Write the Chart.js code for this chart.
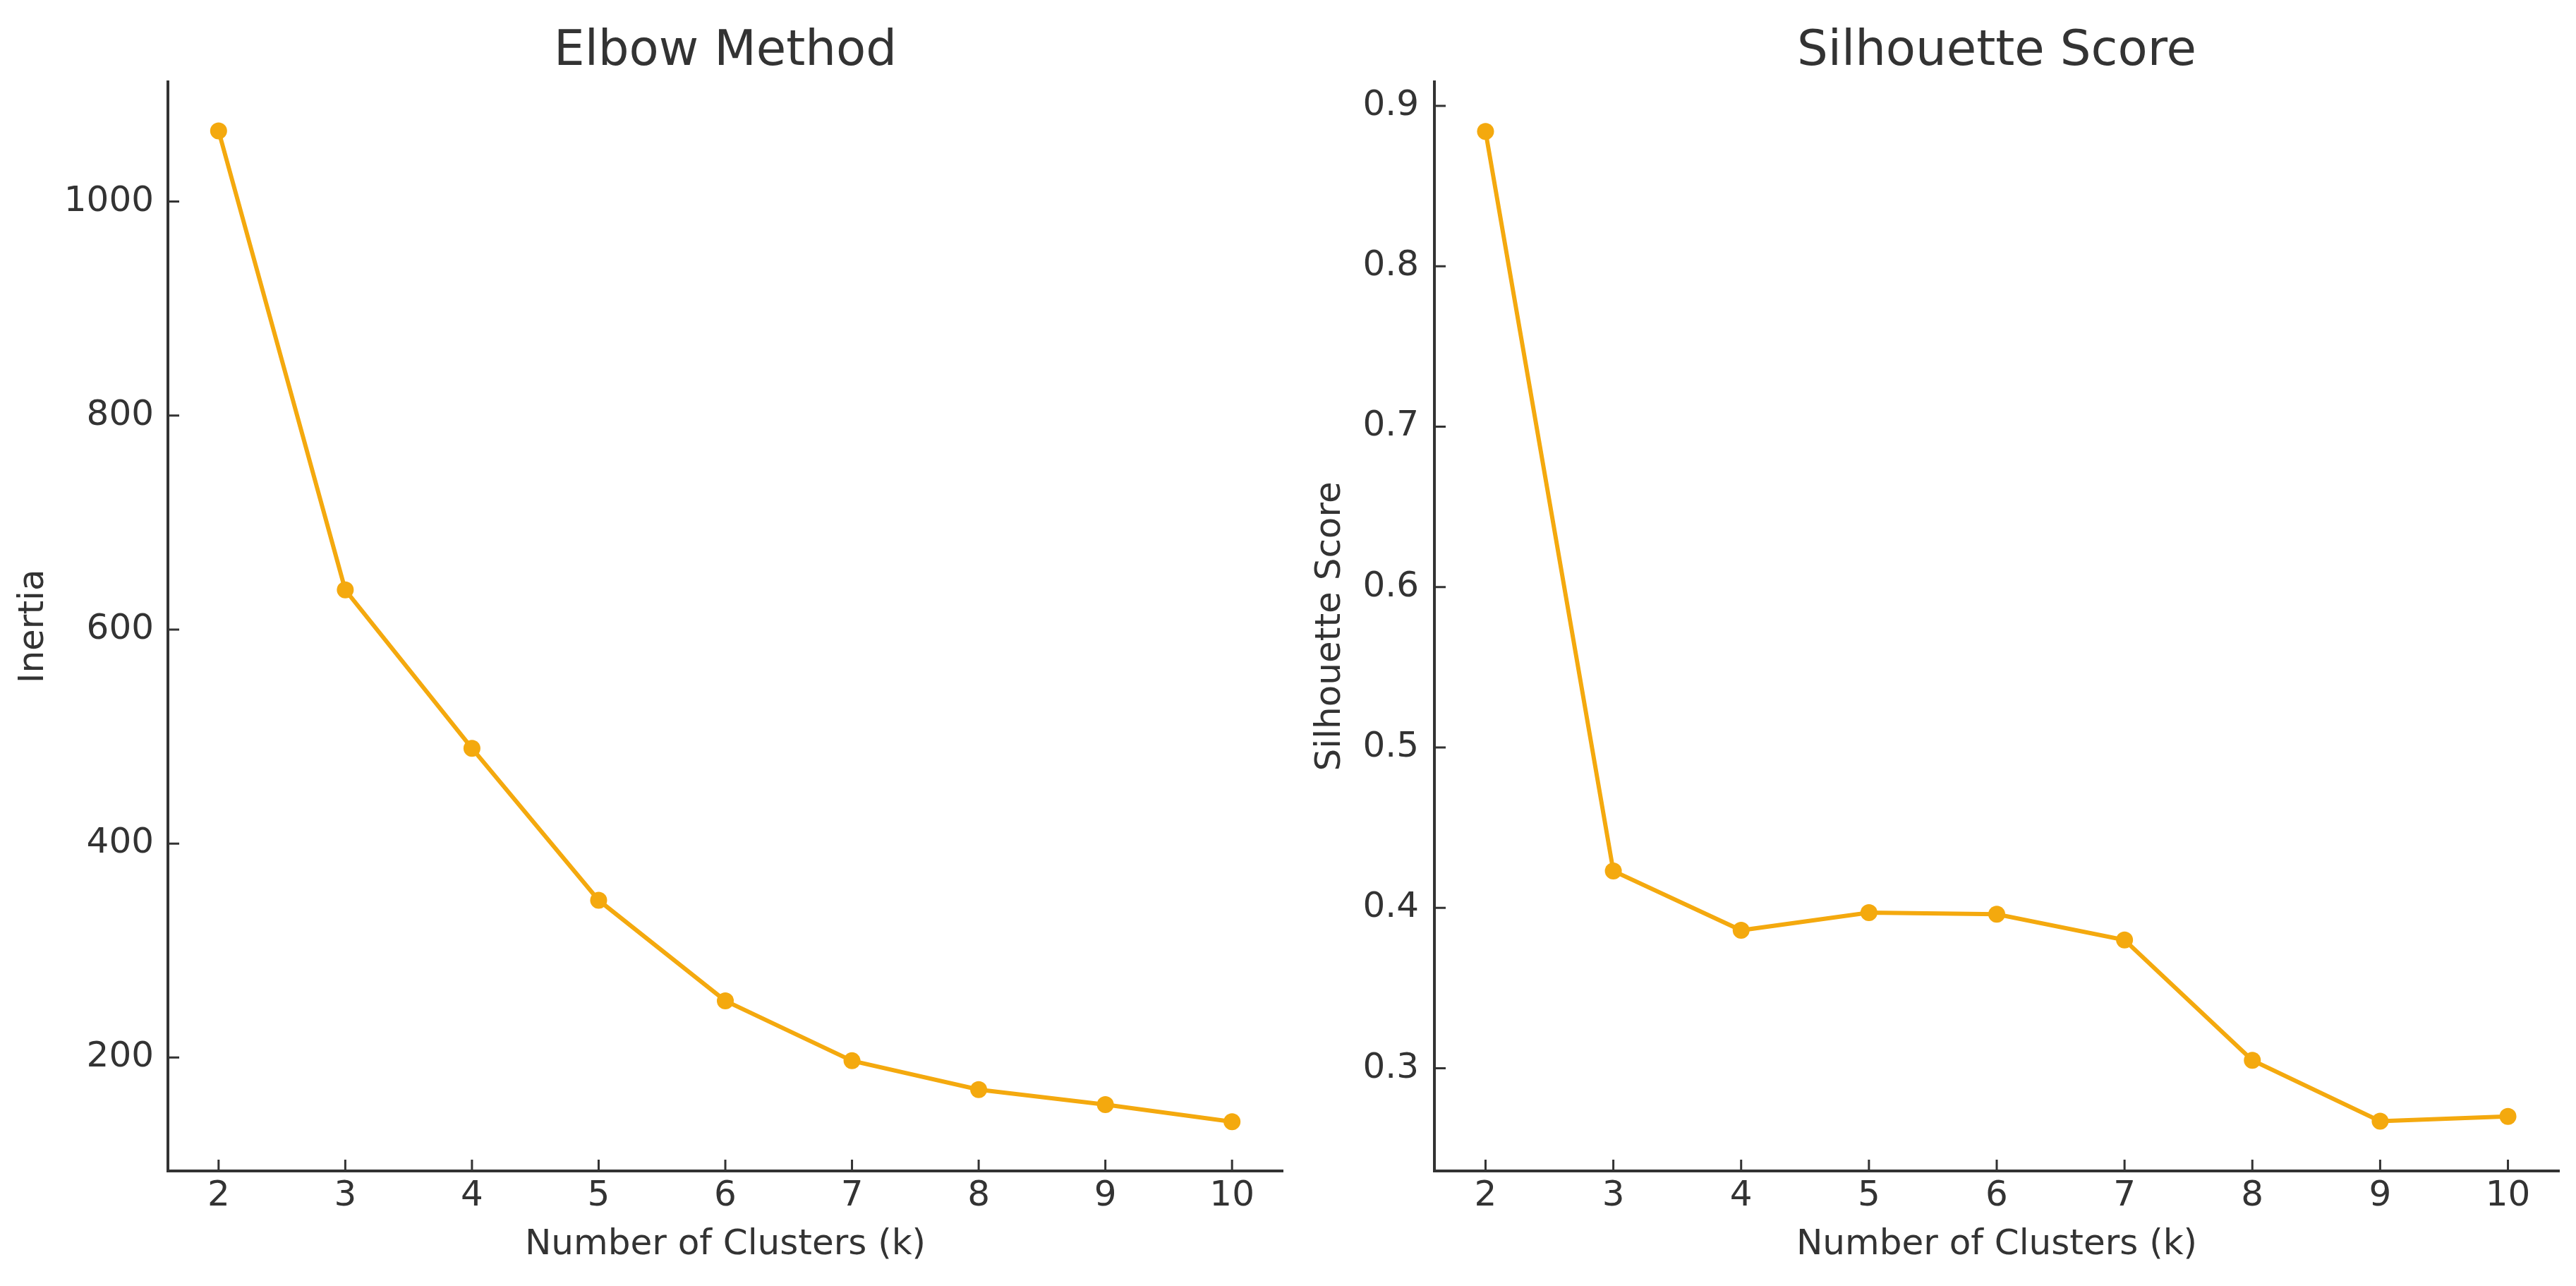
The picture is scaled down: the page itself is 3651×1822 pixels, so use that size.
<!DOCTYPE html>
<html lang="en">
<head>
<meta charset="UTF-8">
<title>Elbow Method / Silhouette Score</title>
<style>
  body { margin: 0; background: #fff; }
  #elbow { position: absolute; left: 0; top: 0; }
  #silhouette { position: absolute; left: 1830px; top: 0; }
</style>
</head>
<body>

<canvas id="elbow" width="1830" height="1822"></canvas>
<canvas id="silhouette" width="1821" height="1822"></canvas>

<script src="https://cdn.jsdelivr.net/npm/chart.js"></script>
<script>
const clusters = [2, 3, 4, 5, 6, 7, 8, 9, 10];
const inertia = [1066, 637, 489, 347, 253, 197, 170, 156, 140];
const silhouetteScores = [0.884, 0.423, 0.386, 0.397, 0.396, 0.380, 0.305, 0.267, 0.270];
const inertiaTicks = [200, 400, 600, 800, 1000];
const silhouetteTicks = [0.3, 0.4, 0.5, 0.6, 0.7, 0.8, 0.9];

const lineColor = '#f4a90e';
const textColor = '#333333';
const axisColor = '#333333';

Chart.defaults.font.family = 'DejaVu Sans';
Chart.defaults.color = textColor;

// matplotlib style ticks pointing inside the axes
const innerTicks = {
    id: 'innerTicks',
    beforeDatasetsDraw(chart) {
        const ctx = chart.ctx;
        const x = chart.scales.x;
        const y = chart.scales.y;
        ctx.save();
        ctx.strokeStyle = axisColor;
        ctx.lineWidth = 3;
        ctx.beginPath();
        x.ticks.forEach(t => {
            const px = x.getPixelForValue(t.value);
            ctx.moveTo(px, x.top);
            ctx.lineTo(px, x.top - 16);
        });
        y.ticks.forEach(t => {
            const py = y.getPixelForValue(t.value);
            ctx.moveTo(y.right, py);
            ctx.lineTo(y.right + 16, py);
        });
        ctx.stroke();
        ctx.restore();
    }
};

function makeChart(id, values, yTicks, opts) {
    const points = clusters.map((k, i) => ({ x: k, y: values[i] }));
    return new Chart(document.getElementById(id), {
        type: 'line',
        data: {
            datasets: [{
                data: points,
                borderColor: lineColor,
                backgroundColor: lineColor,
                borderWidth: 6,
                pointRadius: 12,
                pointBorderWidth: 0,
                tension: 0
            }]
        },
        options: {
            responsive: false,
            animation: false,
            devicePixelRatio: 1,
            layout: { padding: { left: 0, right: opts.padRight, top: 0, bottom: 0 } },
            plugins: {
                legend: { display: false },
                tooltip: { enabled: false },
                title: {
                    display: true,
                    text: opts.title,
                    fullSize: false,
                    color: textColor,
                    font: { size: 69, weight: 'normal' },
                    padding: { top: 33, bottom: 0 }
                }
            },
            scales: {
                x: {
                    type: 'linear',
                    min: 1.6,
                    max: 10.4,
                    afterBuildTicks: s => { s.ticks = clusters.map(v => ({ value: v })); },
                    afterFit: s => { s.height = 163; },
                    grid: { display: false, drawTicks: false },
                    border: { display: true, color: axisColor, width: 4 },
                    ticks: { font: { size: 50 }, color: textColor, padding: 6, maxRotation: 0, autoSkip: false },
                    title: {
                        display: true,
                        text: 'Number of Clusters (k)',
                        color: textColor,
                        font: { size: 50 },
                        padding: { top: 0, bottom: 28 }
                    }
                },
                y: {
                    type: 'linear',
                    min: opts.yMin,
                    max: opts.yMax,
                    afterBuildTicks: s => { s.ticks = yTicks.map(v => ({ value: v })); },
                    afterFit: s => { s.width = opts.yWidth; },
                    grid: { display: false, drawTicks: false },
                    border: { display: true, color: axisColor, width: 4 },
                    ticks: {
                        font: { size: 50 },
                        color: textColor,
                        padding: opts.tickPad,
                        callback: v => opts.fmt(v)
                    },
                    title: {
                        display: true,
                        text: opts.yLabel,
                        color: textColor,
                        font: { size: 50 },
                        padding: { top: opts.labelPad, bottom: 0 }
                    }
                }
            }
        },
        plugins: [innerTicks]
    });
}

makeChart('elbow', inertia, inertiaTicks, {
    title: 'Elbow Method',
    yLabel: 'Inertia',
    yMin: 94,
    yMax: 1112,
    yWidth: 238,
    padRight: 0,
    tickPad: 20,
    labelPad: 18,
    fmt: v => String(v)
});

makeChart('silhouette', silhouetteScores, silhouetteTicks, {
    title: 'Silhouette Score',
    yLabel: 'Silhouette Score',
    yMin: 0.236,
    yMax: 0.915,
    yWidth: 203,
    padRight: 24,
    tickPad: 22,
    labelPad: 26,
    fmt: v => v.toFixed(1)
});
</script>
</body>
</html>
